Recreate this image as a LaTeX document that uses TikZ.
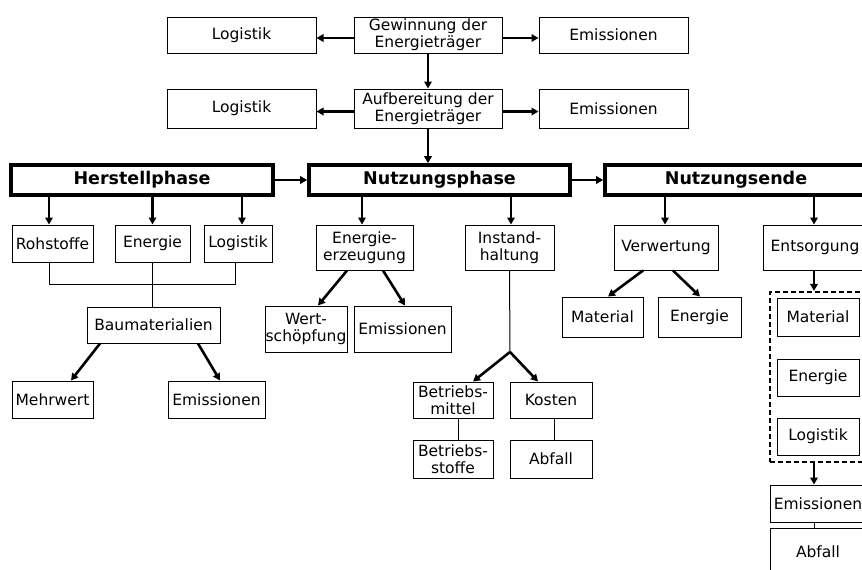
\documentclass[tikz,border=0pt]{standalone}
\usepackage{fontspec}
\usetikzlibrary{arrows.meta}
\newfontfamily\boxfont{DejaVu Sans}
\begin{document}
\begin{tikzpicture}[x=1pt,y=-1pt,
  box/.style={draw, line width=1pt, inner sep=0pt, align=center,
    font=\boxfont\fontsize{15.5}{17}\selectfont},
  phase/.style={draw, line width=3.6pt, inner sep=0pt, align=center,
    minimum width=262pt, minimum height=30pt,
    font=\boxfont\bfseries\fontsize{17.5}{20}\selectfont},
  arr/.style={line width=2.6pt, -{Triangle[length=7pt,width=7.5pt]}},
  thin/.style={line width=1pt},
  group/.style={draw, line width=2.2pt, dash pattern=on 5pt off 3pt, inner sep=0pt}]
\useasboundingbox (0,0) rectangle (862,570);
\clip (0,0) rectangle (862,570);

% supply chain of the energy carriers
\node[box, minimum width=149pt, minimum height=36pt] (log1) at (241.5,35) {Logistik};
\node[box, minimum width=148pt, minimum height=36pt] (gew) at (428,35) {Gewinnung der\\Energieträger};
\node[box, minimum width=149pt, minimum height=36pt] (emi1) at (613.5,35) {Emissionen};
\node[box, minimum width=149pt, minimum height=39pt] (log2) at (241.5,108.5) {Logistik};
\node[box, minimum width=148pt, minimum height=39pt] (auf) at (428,108.5) {Aufbereitung der\\Energieträger};
\node[box, minimum width=149pt, minimum height=39pt] (emi2) at (613.5,108.5) {Emissionen};

% life-cycle phases
\node[phase] (herst) at (142,180) {Herstellphase};
\node[phase, minimum width=261pt] (nutz) at (439.5,180) {Nutzungsphase};
\node[phase] (ende) at (736,180) {Nutzungsende};

% production phase
\node[box, minimum width=81pt, minimum height=37pt] (rohst) at (52.5,243.5) {Rohstoffe};
\node[box, minimum width=75pt, minimum height=37pt] (energ) at (152.5,243.5) {Energie};
\node[box, minimum width=68pt, minimum height=37pt] (logi) at (238,243.5) {Logistik};
\node[box, minimum width=133pt, minimum height=36pt] (baum) at (153.5,325) {Baumaterialien};
\node[box, minimum width=81pt, minimum height=37pt] (mehr) at (52.5,399.5) {Mehrwert};
\node[box, minimum width=97pt, minimum height=37pt] (emi3) at (216.5,399.5) {Emissionen};

% use phase
\node[box, minimum width=97pt, minimum height=45pt] (enerz) at (364.5,247.5) {Energie-\\erzeugung};
\node[box, minimum width=89pt, minimum height=45pt] (inst) at (509.5,247.5) {Instand-\\haltung};
\node[box, minimum width=82pt, minimum height=46pt] (wert) at (306,329) {Wert-\\schöpfung};
\node[box, minimum width=97pt, minimum height=46pt] (emi4) at (402.5,329) {Emissionen};
\node[box, minimum width=80pt, minimum height=36pt] (bm) at (453,400) {Betriebs-\\mittel};
\node[box, minimum width=82pt, minimum height=36pt] (kost) at (551,400) {Kosten};
\node[box, minimum width=80pt, minimum height=38pt] (bs) at (453,459) {Betriebs-\\stoffe};
\node[box, minimum width=82pt, minimum height=38pt] (abf) at (551,459) {Abfall};
\coordinate (split) at (510,352);

% end of use
\node[box, minimum width=104pt, minimum height=45pt] (verw) at (666,247.5) {Verwertung};
\node[box, minimum width=104pt, minimum height=45pt] (ents) at (815,247.5) {Entsorgung};
\node[box, minimum width=81pt, minimum height=40pt] (mat5) at (602.5,317) {Material};
\node[box, minimum width=83pt, minimum height=40pt] (en5) at (699.5,317) {Energie};
\node[group, minimum width=96pt, minimum height=170pt] (grp) at (818,377) {};
\node[box, minimum width=82pt, minimum height=38pt] (mat6) at (818,317) {Material};
\node[box, minimum width=82pt, minimum height=37pt] (en6) at (818,377.5) {Energie};
\node[box, minimum width=82pt, minimum height=37pt] (log6) at (818,436.5) {Logistik};
\node[box, minimum width=96pt, minimum height=37pt] (emi6) at (818,503.5) {Emissionen};
\node[box, minimum width=96pt, minimum height=48pt] (abf6) at (818,552) {Abfall};

% connectors: supply chain
\draw[arr] ([yshift=-3pt]gew.west) -- ([yshift=-3pt]log1.east);
\draw[arr] ([yshift=-3pt]gew.east) -- ([yshift=-3pt]emi1.west);
\draw[arr] (gew.south) -- (auf.north);
\draw[arr] ([yshift=-3pt]auf.west) -- ([yshift=-3pt]log2.east);
\draw[arr] ([yshift=-3pt]auf.east) -- ([yshift=-3pt]emi2.west);
\draw[arr] (auf.south) -- (auf.south |- nutz.north);
\draw[arr] (herst.east) -- (nutz.west);
\draw[arr] (nutz.east) -- (ende.west);

% connectors: production phase
\draw[arr] ([xshift=-3.5pt]rohst.north |- herst.south) -- ([xshift=-3.5pt]rohst.north);
\draw[arr] (energ.north |- herst.south) -- (energ.north);
\draw[arr] ([xshift=4pt]logi.north |- herst.south) -- ([xshift=4pt]logi.north);
\draw[thin] ([xshift=-3.5pt]rohst.south) -- ++(0,22) -| ([xshift=-3pt]logi.south);
\draw[thin] (energ.south) -- (energ.south |- baum.north);
\draw[arr] ([xshift=-53.5pt]baum.south) -- ([xshift=18.5pt]mehr.north);
\draw[arr] ([xshift=44.5pt]baum.south) -- ([xshift=3.5pt]emi3.north);

% connectors: use phase
\draw[arr] ([xshift=-2.5pt]enerz.north |- nutz.south) -- ([xshift=-2.5pt]enerz.north);
\draw[arr] ([xshift=1.5pt]inst.north |- nutz.south) -- ([xshift=1.5pt]inst.north);
\draw[arr] ([xshift=-17.5pt]enerz.south) -- ([xshift=12pt]wert.north);
\draw[arr] ([xshift=18.5pt]enerz.south) -- ([xshift=2.5pt]emi4.north);
\draw[thin] (inst.south) -- (split);
\draw[arr] (split) -- ([xshift=20pt]bm.north);
\draw[arr] (split) -- ([xshift=-13pt]kost.north);
\draw[thin] ([xshift=5pt]bm.south) -- ([xshift=5pt]bs.north);
\draw[thin] ([xshift=3pt]kost.south) -- ([xshift=3pt]abf.north);

% connectors: end of use
\draw[arr] ([xshift=-1pt]verw.north |- ende.south) -- ([xshift=-1pt]verw.north);
\draw[arr] ([xshift=-1pt]ents.north |- ende.south) -- ([xshift=-1pt]ents.north);
\draw[arr] ([xshift=-23pt]verw.south) -- ([xshift=5.5pt]mat5.north);
\draw[arr] ([xshift=7pt]verw.south) -- ([xshift=0.5pt]en5.north);
\draw[arr] ([xshift=-1pt]ents.south) -- ([xshift=-1pt]ents.south |- grp.north);
\draw[arr] ([xshift=-4pt]grp.south) -- ([xshift=-4pt]emi6.north);
\draw[thin] ([xshift=-4pt]emi6.south) -- ([xshift=-4pt]abf6.north);
\end{tikzpicture}
\end{document}
